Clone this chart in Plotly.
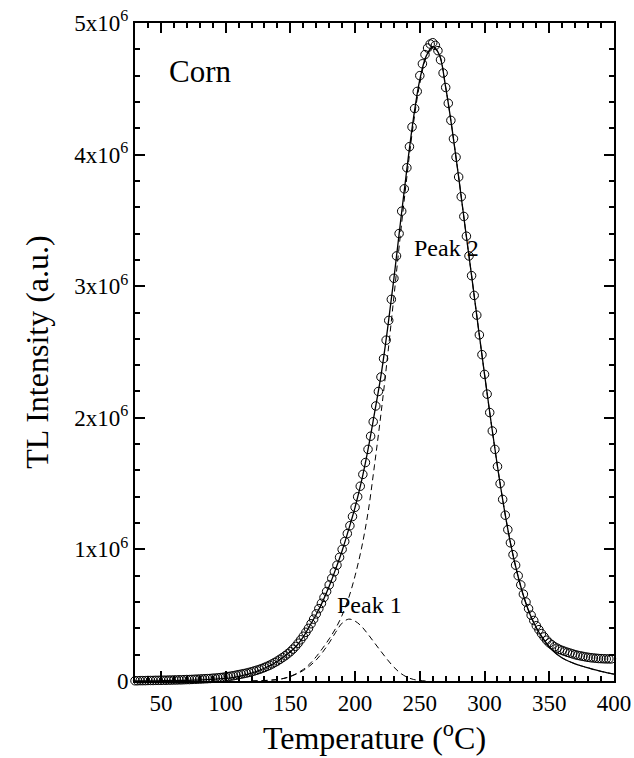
import plotly.graph_objects as go

# Measured TL glow curve of irradiated corn (intensity in units of 1e6 a.u.)
temp_c = [
    28, 30, 32, 34, 36, 38, 40, 42, 44, 46, 48, 50, 52, 54, 56, 58, 60, 62, 64, 66,
    68, 70, 72, 74, 76, 78, 80, 82, 84, 86, 88, 90, 92, 94, 96, 98, 100, 102, 104, 106,
    108, 110, 112, 114, 116, 118, 120, 122, 124, 126, 128, 130, 132, 134, 136, 138, 140, 142, 144, 146,
    148, 150, 152, 154, 156, 158, 160, 162, 164, 166, 168, 170, 172, 174, 176, 178, 180, 182, 184, 186,
    188, 190, 192, 194, 196, 198, 200, 202, 204, 206, 208, 210, 212, 214, 216, 218, 220, 222, 224, 226,
    228, 230, 232, 234, 236, 238, 240, 242, 244, 246, 248, 250, 252, 254, 256, 258, 260, 262, 264, 266,
    268, 270, 272, 274, 276, 278, 280, 282, 284, 286, 288, 290, 292, 294, 296, 298, 300, 302, 304, 306,
    308, 310, 312, 314, 316, 318, 320, 322, 324, 326, 328, 330, 332, 334, 336, 338, 340, 342, 344, 346,
    348, 350, 352, 354, 356, 358, 360, 362, 364, 366, 368, 370, 372, 374, 376, 378, 380, 382, 384, 386,
    388, 390, 392, 394, 396, 398,
]
tl_measured = [
    0.002, 0.002, 0.002, 0.003, 0.003, 0.003, 0.004, 0.004, 0.004, 0.005,
    0.005, 0.005, 0.006, 0.006, 0.007, 0.007, 0.008, 0.008, 0.009, 0.009,
    0.010, 0.011, 0.011, 0.012, 0.013, 0.014, 0.015, 0.016, 0.017, 0.018,
    0.019, 0.021, 0.022, 0.024, 0.026, 0.028, 0.031, 0.034, 0.037, 0.040,
    0.044, 0.048, 0.052, 0.056, 0.060, 0.065, 0.070, 0.076, 0.082, 0.088,
    0.095, 0.103, 0.111, 0.120, 0.130, 0.141, 0.152, 0.165, 0.178, 0.192,
    0.207, 0.223, 0.242, 0.263, 0.287, 0.313, 0.340, 0.370, 0.400, 0.435,
    0.470, 0.510, 0.550, 0.590, 0.635, 0.680, 0.730, 0.780, 0.830, 0.880,
    0.940, 1.000, 1.060, 1.120, 1.180, 1.250, 1.320, 1.400, 1.480, 1.570,
    1.660, 1.760, 1.860, 1.970, 2.090, 2.200, 2.310, 2.450, 2.590, 2.740,
    2.900, 3.060, 3.230, 3.400, 3.570, 3.740, 3.900, 4.060, 4.210, 4.350,
    4.480, 4.600, 4.690, 4.760, 4.810, 4.840, 4.850, 4.830, 4.790, 4.720,
    4.620, 4.510, 4.390, 4.260, 4.120, 3.980, 3.830, 3.680, 3.530, 3.380,
    3.230, 3.080, 2.930, 2.780, 2.630, 2.480, 2.330, 2.180, 2.040, 1.900,
    1.760, 1.630, 1.500, 1.380, 1.260, 1.150, 1.050, 0.960, 0.880, 0.800,
    0.730, 0.660, 0.600, 0.550, 0.500, 0.460, 0.420, 0.390, 0.360, 0.335,
    0.310, 0.290, 0.275, 0.260, 0.250, 0.240, 0.232, 0.225, 0.218, 0.212,
    0.206, 0.200, 0.195, 0.191, 0.187, 0.183, 0.180, 0.177, 0.175, 0.173,
    0.171, 0.170, 0.169, 0.168, 0.168, 0.168,
]

# Deconvolution result: total fit and the two glow peaks
fit_temp = [
    30, 35, 40, 45, 50, 55, 60, 65, 70, 75, 80, 85, 90, 95, 100, 105, 110, 115, 120, 125,
    130, 135, 140, 145, 150, 155, 160, 165, 170, 175, 180, 185, 190, 195, 200, 205, 210, 215, 220, 225,
    230, 235, 240, 245, 250, 255, 260, 265, 270, 275, 280, 285, 290, 295, 300, 305, 310, 315, 320, 325,
    330, 335, 340, 345, 350, 355, 360, 365, 370, 375, 380, 385, 390, 395, 400,
]
fit_total = [
    0.000, 0.000, 0.001, 0.001, 0.002, 0.002, 0.003, 0.004, 0.005, 0.006,
    0.008, 0.010, 0.013, 0.016, 0.020, 0.026, 0.035, 0.046, 0.060, 0.077,
    0.097, 0.121, 0.150, 0.184, 0.222, 0.270, 0.335, 0.420, 0.505, 0.605,
    0.720, 0.850, 0.990, 1.150, 1.320, 1.520, 1.760, 2.035, 2.320, 2.670,
    3.060, 3.480, 3.890, 4.270, 4.570, 4.750, 4.820, 4.760, 4.510, 4.190,
    3.830, 3.450, 3.080, 2.700, 2.330, 1.970, 1.630, 1.320, 1.050, 0.830,
    0.650, 0.510, 0.405, 0.325, 0.260, 0.210, 0.175, 0.150, 0.130, 0.114,
    0.100, 0.086, 0.073, 0.062, 0.052,
]

peak1_temp = [
    120, 125, 130, 135, 140, 145, 150, 155, 160, 165, 170, 175, 180, 185,
    190, 195, 200, 205, 210, 215, 220, 225, 230, 235, 240, 245, 250, 255,
]
peak1 = [
    0.000, 0.002, 0.004, 0.007, 0.011, 0.020, 0.034, 0.054, 0.080, 0.115,
    0.160, 0.220, 0.290, 0.370, 0.440, 0.470, 0.455, 0.415, 0.355, 0.290,
    0.225, 0.162, 0.105, 0.060, 0.030, 0.012, 0.004, 0.000,
]

peak2_temp = [
    120, 125, 130, 135, 140, 145, 150, 155, 160, 165, 170, 175, 180, 185, 190, 195, 200, 205, 210, 215,
    220, 225, 230, 235, 240, 245, 250, 255, 260, 265, 270, 275, 280, 285, 290, 295, 300, 305, 310, 315,
    320, 325, 330, 335, 340, 345, 350, 355, 360, 365, 370, 375, 380, 385, 390, 395, 400,
]
peak2 = [
    0.000, 0.001, 0.003, 0.006, 0.011, 0.020, 0.035, 0.058, 0.088, 0.130,
    0.185, 0.250, 0.320, 0.400, 0.500, 0.630, 0.800, 1.010, 1.280, 1.640,
    2.030, 2.460, 2.920, 3.390, 3.830, 4.230, 4.540, 4.740, 4.815, 4.760,
    4.510, 4.190, 3.830, 3.450, 3.080, 2.700, 2.330, 1.970, 1.630, 1.320,
    1.050, 0.830, 0.650, 0.510, 0.405, 0.325, 0.260, 0.210, 0.175, 0.150,
    0.130, 0.114, 0.100, 0.086, 0.073, 0.062, 0.052,
]

y_tick_vals = [0, 1, 2, 3, 4, 5]
y_tick_text = ["0", "1x10<sup>6</sup>", "2x10<sup>6</sup>", "3x10<sup>6</sup>",
               "4x10<sup>6</sup>", "5x10<sup>6</sup>"]

SERIF = "Liberation Serif, Times New Roman, serif"

fig = go.Figure()

fig.add_trace(go.Scatter(
    x=peak1_temp, y=peak1, mode="lines", line_shape="spline",
    line=dict(color="black", width=1, dash="6px,4px"), hoverinfo="skip",
))
fig.add_trace(go.Scatter(
    x=peak2_temp, y=peak2, mode="lines", line_shape="spline",
    line=dict(color="black", width=1, dash="6px,4px"), hoverinfo="skip",
))
fig.add_trace(go.Scatter(
    x=fit_temp, y=fit_total, mode="lines", line_shape="spline",
    line=dict(color="black", width=1.3), hoverinfo="skip",
))
fig.add_trace(go.Scatter(
    x=temp_c, y=tl_measured, mode="markers", cliponaxis=False,
    marker=dict(symbol="circle-open", size=8.5, color="black", line=dict(width=1)),
))

axis_common = dict(
    showline=True, linewidth=2, linecolor="black", mirror="ticks",
    ticks="inside", ticklen=10, tickwidth=1.5, tickcolor="black",
    showgrid=False, zeroline=False,
    tickfont=dict(family=SERIF, size=23, color="black"),
)

fig.update_xaxes(
    range=[30, 400], tickmode="linear", tick0=50, dtick=50,
    minor=dict(ticks="inside", ticklen=5, tickwidth=1.5, tickcolor="black",
               tickmode="linear", tick0=0, dtick=10),
    title=dict(text="Temperature (<sup>o</sup>C)", font=dict(family=SERIF, size=32, color="black"),
               standoff=2),
    **axis_common,
)
fig.update_yaxes(
    range=[0, 5], tickmode="array", tickvals=y_tick_vals, ticktext=y_tick_text,
    minor=dict(ticks="inside", ticklen=5, tickwidth=1.5, tickcolor="black",
               tickmode="linear", tick0=0, dtick=0.2),
    title=dict(text="TL Intensity (a.u.)", font=dict(family=SERIF, size=32, color="black"),
               standoff=16),
    **axis_common,
)

label_font = dict(family=SERIF, size=24, color="black")
fig.add_annotation(x=55, y=4.63, xref="x", yref="y", text="Corn", showarrow=False,
                   xanchor="left", yanchor="middle", font=dict(family=SERIF, size=31, color="black"))
fig.add_annotation(x=244, y=3.29, xref="x", yref="y", text="Peak 2", showarrow=False,
                   xanchor="left", yanchor="middle", font=label_font)
fig.add_annotation(x=184.5, y=0.58, xref="x", yref="y", text="Peak 1", showarrow=False,
                   xanchor="left", yanchor="middle", font=label_font)

fig.update_layout(
    width=634, height=758,
    margin=dict(l=135, r=20, t=23, b=77, autoexpand=False),
    paper_bgcolor="white", plot_bgcolor="white",
    showlegend=False,
    font=dict(family=SERIF, color="black"),
)

fig.write_html("out.html")
